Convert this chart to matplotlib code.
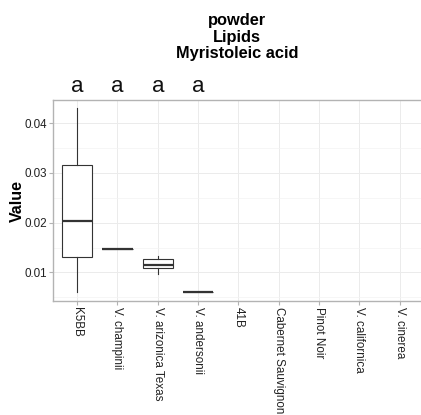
import numpy as np
import matplotlib.pyplot as plt
from matplotlib.ticker import MultipleLocator

plt.rcParams['font.family'] = ['Liberation Sans', 'DejaVu Sans']

# groups along the x axis
groups = ["K5BB", "V. champinii", "V. arizonica Texas", "V. andersonii", "41B",
          "Cabernet Sauvignon", "Pinot Noir", "V. californica", "V. cinerea"]

# box summaries (whisker low, q1, median, q3, whisker high); None = no data
whislo = [0.0060, 0.0147, 0.0097, 0.0060, None, None, None, None, None]
q1 = [0.0131, 0.0147, 0.0108, 0.0060, None, None, None, None, None]
med = [0.0203, 0.0147, 0.0115, 0.0060, None, None, None, None, None]
q3 = [0.0315, 0.0147, 0.0127, 0.0060, None, None, None, None, None]
whishi = [0.0430, 0.0147, 0.0134, 0.0060, None, None, None, None, None]
letters = ["a", "a", "a", "a"]

stats = []
pos = []
for i in range(len(groups)):
    if med[i] is None:
        continue
    stats.append(dict(whislo=whislo[i], q1=q1[i], med=med[i], q3=q3[i],
                      whishi=whishi[i], fliers=[]))
    pos.append(i + 1)

fig = plt.figure(figsize=(4.21, 4.15), dpi=100)
ax = fig.add_axes([0.1259, 0.2747, 0.8808, 0.4843])

line_col = "#333333"
ax.bxp(stats, positions=pos, widths=0.75, showfliers=False, showcaps=False,
       patch_artist=True,
       boxprops=dict(facecolor="white", edgecolor=line_col, linewidth=0.8),
       whiskerprops=dict(color=line_col, linewidth=0.8),
       medianprops=dict(color=line_col, linewidth=1.6))

ax.set_xlim(0.4, len(groups) + 0.6)
ax.set_ylim(0.00426, 0.04464)
ax.set_xticks(range(1, len(groups) + 1))
ax.set_xticklabels(groups, rotation=270, fontsize=8.4, color="#222222")
ax.yaxis.set_major_locator(MultipleLocator(0.01))
ax.yaxis.set_minor_locator(MultipleLocator(0.005))
ax.set_yticks([0.01, 0.02, 0.03, 0.04])
ax.set_yticklabels(["0.01", "0.02", "0.03", "0.04"], fontsize=8.4, color="#222222")
ax.tick_params(axis="both", length=3, color="#b3b3b3", width=0.8, pad=1.5)
ax.tick_params(axis="y", which="minor", length=0)

ax.grid(True, which="major", color="#ebebeb", linewidth=0.7)
ax.grid(True, which="minor", axis="y", color="#f3f3f3", linewidth=0.5)
ax.set_axisbelow(True)
for s in ax.spines.values():
    s.set_color("#b3b3b3")
    s.set_linewidth(1.0)

ax.set_ylabel("Value", fontsize=11.5, fontweight="bold", labelpad=-0.5)

# significance letters above the panel
for i, lab in enumerate(letters):
    ax.text(i + 1, 1.015, lab, transform=ax.get_xaxis_transform(),
            ha="center", va="bottom", fontsize=16, color="#111111")

fig.text(0.5635, 0.968, "powder\nLipids\nMyristoleic acid", ha="center", va="top",
         fontsize=11.8, fontweight="bold", linespacing=1.12)

fig.savefig("out.png", dpi=100)
